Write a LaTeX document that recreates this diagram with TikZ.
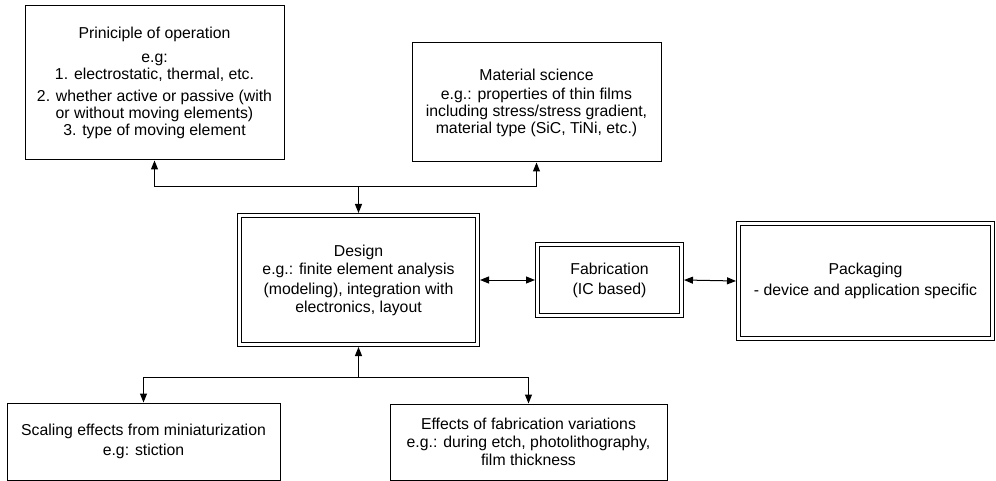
\documentclass[tikz,border=0pt]{standalone}
\usepackage{fontspec}
\setmainfont{Liberation Sans}
\usetikzlibrary{arrows.meta}
\begin{document}
\begin{tikzpicture}[x=1pt,y=-1pt,line width=1pt,
    box/.style={draw,align=center,inner sep=0pt,font=\fontsize{15.8}{17}\selectfont},
    dbox/.style={box,double,double distance=3pt,outer sep=2.5pt},
    tip/.style={-{Triangle[length=9pt,width=7pt]}},
    both/.style={{Triangle[length=9pt,width=7pt]}-{Triangle[length=9pt,width=7pt]}}]
  \useasboundingbox (0,0) rectangle (996,481);
  % upper boxes
  \node[box,minimum width=259pt,minimum height=154pt] (oper) at (154.5,83)
    {Priniciple of operation\\[7pt] e.g:\\ 1. electrostatic, thermal, etc.\\[5pt]
     2. whether active or passive (with\\ or without moving elements)\\
     3. type of moving element};
  \node[box,minimum width=249pt,minimum height=119pt] (mat) at (536.5,102.5)
    {Material science\\[2pt] e.g.: properties of thin films\\
     including stress/stress gradient,\\ material type (SiC, TiNi, etc.)};
  % middle row, double framed
  \node[dbox,minimum width=238pt,minimum height=129pt] (design) at (358.5,280)
    {Design\\[1pt] e.g.: finite element analysis\\[3pt]
     (modeling), integration with\\[1pt] electronics, layout};
  \node[dbox,minimum width=144pt,minimum height=71pt] (fab) at (609.5,280)
    {Fabrication\\[3pt] (IC based)};
  \node[dbox,minimum width=254pt,minimum height=115pt] (pack) at (865.5,281)
    {Packaging\\[3.5pt] - device and application specific};
  % lower boxes
  \node[box,minimum width=273pt,minimum height=77pt] (scal) at (143.5,441.5)
    {Scaling effects from miniaturization\\[3pt] e.g: stiction};
  \node[box,minimum width=277pt,minimum height=76pt] (var) at (528.5,442)
    {Effects of fabrication variations\\[1pt] e.g.: during etch, photolithography,\\[1pt]
     film thickness};
  % connectors
  \coordinate (jt) at (design.north |- 0,187);
  \coordinate (jb) at (design.south |- 0,377);
  \draw[tip] (jt) -- (design.north);
  \draw[tip] (jt) -| (oper.south);
  \draw[tip] (jt) -| (mat.south);
  \draw[tip] (jb) -- (design.south);
  \draw[tip] (jb) -| (scal.north);
  \draw[tip] (jb) -| (var.north);
  \draw[both] (design.east) -- (fab.west);
  \draw[both] (fab.east) -- (pack.west);
\end{tikzpicture}
\end{document}
